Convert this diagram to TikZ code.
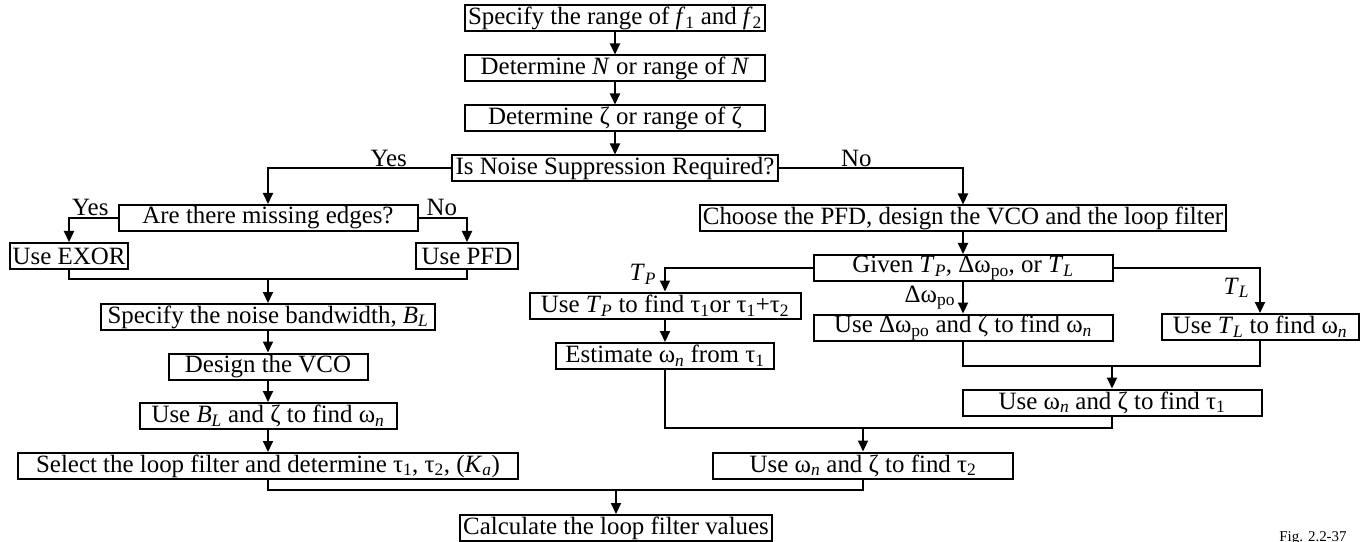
\documentclass[tikz,border=0pt]{standalone}
\usepackage{fontspec}
\setmainfont{Liberation Serif}
\usepackage{tikz}
\usetikzlibrary{positioning,arrows.meta,calc}

\newcommand{\ix}[2]{\textit{#1}\textsubscript{\textit{#2}}}
\newcommand{\wn}{ω\textsubscript{\textit{n}}}
\newcommand{\dwpo}{Δω\textsubscript{po}}

\begin{document}
\begin{tikzpicture}[x=1bp,y=-1bp,>={Triangle[length=11bp,width=10bp]},
  font=\fontsize{25}{27}\selectfont,line width=2bp,
  b/.style={draw,line width=2bp,inner sep=0pt,minimum height=26bp,align=center},
  lbl/.style={inner sep=1bp}]
  \useasboundingbox (0,0) rectangle (1362,542);
  % main column
  \node[b,minimum width=300bp] (sr) at (615,18.5) {Specify the range of \textit{f}\textsubscript{1} and \textit{f}\textsubscript{2}};
  \node[b,minimum width=300bp] (dn) at (615,68.5) {Determine \textit{N} or range of \textit{N}};
  \node[b,minimum width=300bp] (dz) at (615,118.5) {Determine ζ or range of ζ};
  \node[b,minimum width=326bp] (ns) at (615,168.5) {Is Noise Suppression Required?};
  % noise suppression branch
  \node[b,minimum width=299bp] (me) at (268,218) {Are there missing edges?};
  \node[b,minimum width=118bp] (ex) at (69,256) {Use EXOR};
  \node[b,minimum width=102bp] (pf) at (467,256) {Use PFD};
  \node[b,minimum width=334bp] (bw) at (268,317) {Specify the noise bandwidth, \ix{B}{L}};
  \node[b,minimum width=199bp] (vc) at (268,366.5) {Design the VCO};
  \node[b,minimum width=257bp] (bl) at (268,416) {Use \ix{B}{L} and ζ to find \wn};
  \node[b,minimum width=500bp] (sl) at (268,466) {Select the loop filter and determine τ\textsubscript{1}, τ\textsubscript{2}, (\ix{K}{a})};
  % no noise suppression branch
  \node[b,minimum width=526bp] (ch) at (963,218.5) {Choose the PFD, design the VCO and the loop filter};
  \node[b,minimum width=299bp] (gv) at (963,268) {Given \ix{T}{P}, \dwpo, or \ix{T}{L}};
  \node[b,minimum width=271bp] (tp) at (665,305.5) {Use \ix{T}{P} to find τ\textsubscript{1}or τ\textsubscript{1}+τ\textsubscript{2}};
  \node[b,minimum width=218bp] (es) at (665,356) {Estimate \wn{} from τ\textsubscript{1}};
  \node[b,minimum width=299bp] (dw) at (963,327.5) {Use \dwpo{} and ζ to find \wn};
  \node[b,minimum width=197bp] (tl) at (1260,327) {Use \ix{T}{L} to find \wn};
  \node[b,minimum width=299bp] (t1) at (1112,402.5) {Use \wn{} and ζ to find τ\textsubscript{1}};
  \node[b,minimum width=300bp] (t2) at (863,465.5) {Use \wn{} and ζ to find τ\textsubscript{2}};
  \node[b,minimum width=312bp] (cv) at (616,528) {Calculate the loop filter values};
  \node[font=\fontsize{15}{17}\selectfont,anchor=base] (fg) at (1313,541) {Fig. 2.2-37};
  % junctions
  \coordinate (jl) at (268,279);
  \coordinate (jr) at (1112,366);
  \coordinate (jm) at (863,428);
  \coordinate (jb) at (616,490);
  \foreach \a/\bb in {sr/dn,dn/dz,dz/ns,jl/bw,bw/vc,vc/bl,bl/sl,ch/gv,gv/dw,tp/es,jr/t1,jm/t2,jb/cv}{\draw[->] (\a) -- (\bb);}
  \draw[->] (ns.west) -| node[lbl,pos=0.17,above] (y1) {Yes} (me.north);
  \draw[->] (ns.east) -| node[lbl,pos=0.21,above] (n1) {No} (ch.north);
  \draw[->] (me.west) -| node[lbl,pos=0.28,above] (y2) {Yes} (ex.north);
  \draw[->] (me.east) -| node[lbl,pos=0.24,above] (n2) {No} (pf.north);
  \draw (ex.south) |- (jl) -| (pf.south);
  \draw[->] (gv.west) -| node[lbl,pos=0.64,left=7bp] (lp) {\ix{T}{P}} (tp.north);
  \draw[->] (gv.east) -| node[lbl,pos=0.72,left=9bp] (ll) {\ix{T}{L}} (tl.north);
  \node[lbl,left=6bp of $(gv.south)!0.5!(dw.north)$] (lw) {\dwpo};
  \draw (dw.south) |- (jr) -| (tl.south);
  \draw (es.south) |- (jm) -| (t1.south);
  \draw (sl.south) |- (jb) -| (t2.south);
\end{tikzpicture}
\end{document}
